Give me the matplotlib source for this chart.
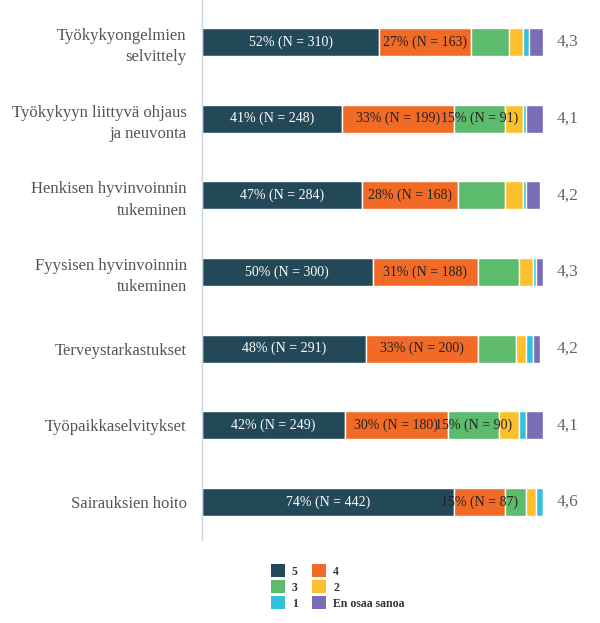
import matplotlib
matplotlib.use('Agg')
from matplotlib import pyplot as plt
from matplotlib.patches import Patch

categories = ['Työkykyongelmien\nselvittely',
              'Työkykyyn liittyvä ohjaus\nja neuvonta',
              'Henkisen hyvinvoinnin\ntukeminen',
              'Fyysisen hyvinvoinnin\ntukeminen',
              'Terveystarkastukset',
              'Työpaikkaselvitykset',
              'Sairauksien hoito']
answers = ['5', '4', '3', '2', '1', 'En osaa sanoa']
# percent per answer, one list per answer, same order as categories
pct_5 = [52, 41, 47, 50, 48, 42, 74]
pct_4 = [27, 33, 28, 31, 33, 30, 15]
pct_3 = [11, 15, 14, 12, 11, 15, 6]
pct_2 = [4, 5, 5, 4, 3, 6, 3]
pct_1 = [2, 1, 1, 1, 2, 2, 2]
pct_eos = [4, 5, 4, 2, 2, 5, 0]
n_5 = [310, 248, 284, 300, 291, 249, 442]
n_4 = [163, 199, 168, 188, 200, 180, 87]
n_3 = [66, 91, 84, 72, 66, 90, 36]
n_2 = [24, 32, 30, 24, 18, 36, 18]
n_1 = [12, 6, 6, 6, 12, 12, 12]
n_eos = [24, 30, 24, 12, 12, 30, 0]
averages = [4.3, 4.1, 4.2, 4.3, 4.2, 4.1, 4.6]

colors = ['#234959', '#f26b26', '#5cbb6c', '#fcbf2e', '#33c0da', '#7a6db8']
txt_colors = ['white', '#222222', '#222222', '#222222', '#222222', '#222222']

plt.rcParams['font.family'] = ['Liberation Serif', 'DejaVu Serif']

fig = plt.figure(figsize=(6, 6.23), dpi=100)
ax = fig.add_axes([202/600, 1 - 540/623, 341/600, 540/623])

pcts = [pct_5, pct_4, pct_3, pct_2, pct_1, pct_eos]
ns = [n_5, n_4, n_3, n_2, n_1, n_eos]
ypos = list(range(len(categories)))
left = [0] * len(categories)
for k in range(len(answers)):
    bars = ax.barh(ypos, pcts[k], left=left, height=0.365, color=colors[k],
                   edgecolor='white', linewidth=1, label=answers[k])
    for i in range(len(categories)):
        if pcts[k][i] >= 15:
            ax.text(left[i] + pcts[k][i] / 2, i, f'{pcts[k][i]}% (N = {ns[k][i]})',
                    ha='center', va='center', fontsize=10, color=txt_colors[k])
    left = [left[i] + pcts[k][i] for i in range(len(categories))]

for i in range(len(categories)):
    ax.text(104, i, f'{averages[i]:.1f}'.replace('.', ','), ha='left', va='center',
            fontsize=12.5, color='#666666')

ax.set_xlim(0, 100)
ax.set_ylim(6.496, -0.548)
ax.set_yticks(ypos)
ax.set_yticklabels(categories, fontsize=12, color='#555555', linespacing=1.45)
ax.tick_params(axis='y', length=0, pad=11)
ax.set_xticks([])
for s in ['top', 'right', 'bottom']:
    ax.spines[s].set_visible(False)
ax.spines['left'].set_color('#c8d5de')
ax.spines['left'].set_linewidth(1)

order = [0, 2, 4, 1, 3, 5]
handles = [Patch(facecolor=colors[k], edgecolor='none') for k in order]
labels = [answers[k] for k in order]
leg = fig.legend(handles, labels, ncol=2, loc='center left',
                 bbox_to_anchor=(260/600, 1 - 587/623), frameon=False,
                 handlelength=1.2, handleheight=1.2, handletextpad=0.6,
                 columnspacing=1.2, labelspacing=0.25,
                 prop={'family': 'Liberation Serif', 'weight': 'bold', 'size': 8.5})
for t in leg.get_texts():
    t.set_color('#333333')

fig.savefig('out.png', dpi=100)
